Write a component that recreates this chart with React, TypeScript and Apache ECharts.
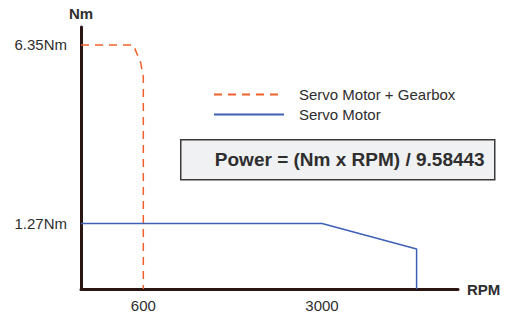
import React, { useEffect, useRef } from "react";
import * as echarts from "echarts";

// Axis extents (schematic chart, not drawn from zero)
const X_MIN = -237;
const X_MAX = 4826;
const Y_MIN = -0.594;
const Y_MAX = 6.862;

// Tick labels
const X_TICKS = [600, 3000];
const Y_TICKS = [1.27, 6.35];

// Series names
const SERIES_GEARBOX = "Servo Motor + Gearbox";
const SERIES_MOTOR = "Servo Motor";

// Data: [RPM, Nm]
const gearboxRpm = [X_MIN, 466, 565, 600, 600];
const gearboxNm = [6.35, 6.35, 5.84, 5.45, Y_MIN];
const motorRpm = [X_MIN, 3000, 4270, 4270];
const motorNm = [1.27, 1.27, 0.544, Y_MIN];

const FORMULA = "Power = (Nm x RPM) / 9.58443";

const FONT = "'Liberation Sans', Arial, sans-serif";
const TEXT = "#2e2e2e";
const AXIS = "#2a1512";
const ORANGE = "#f0602a";
const BLUE = "#3d5fb5";

export default function App() {
  const ref = useRef<HTMLDivElement>(null);
  useEffect(() => {
    if (!ref.current) return;
    const chart = echarts.init(ref.current, null, { renderer: "svg" });
    chart.setOption({
      animation: false,
      backgroundColor: "#ffffff",
      textStyle: { fontFamily: FONT },
      grid: { left: 81, right: 53, top: 27, bottom: 26 },
      legend: {
        orient: "vertical",
        left: 213,
        top: 87,
        padding: 0,
        itemWidth: 70,
        itemHeight: 14,
        itemGap: 5,
        data: [SERIES_GEARBOX, SERIES_MOTOR],
        itemStyle: { opacity: 0 },
        textStyle: {
          fontFamily: FONT,
          fontSize: 15,
          color: TEXT,
          padding: [0, 0, 0, 10],
        },
      },
      xAxis: {
        type: "value",
        min: X_MIN,
        max: X_MAX,
        name: "RPM",
        nameLocation: "end",
        nameGap: 9,
        nameTextStyle: { fontFamily: FONT, fontSize: 15, fontWeight: "bold", color: TEXT, verticalAlign: "middle" },
        axisLine: { onZero: false, lineStyle: { color: AXIS, width: 3 } },
        axisTick: { show: false },
        splitLine: { show: false },
        axisLabel: {
          customValues: X_TICKS,
          formatter: (v: number) => String(v),
          fontFamily: FONT,
          fontSize: 15,
          color: TEXT,
          margin: 9,
        },
      },
      yAxis: {
        type: "value",
        min: Y_MIN,
        max: Y_MAX,
        name: "Nm",
        nameLocation: "end",
        nameGap: 6,
        nameTextStyle: { fontFamily: FONT, fontSize: 15, fontWeight: "bold", color: TEXT, align: "center" },
        axisLine: { onZero: false, lineStyle: { color: AXIS, width: 3 } },
        axisTick: { show: false },
        splitLine: { show: false },
        axisLabel: {
          customValues: Y_TICKS,
          formatter: (v: number) => `${v}Nm`,
          fontFamily: FONT,
          fontSize: 15,
          color: TEXT,
          margin: 14,
        },
      },
      series: [
        {
          name: SERIES_GEARBOX,
          type: "line",
          symbol: "none",
          data: gearboxRpm.map((x, i) => [x, gearboxNm[i]]),
          lineStyle: { color: ORANGE, width: 1.5, type: [8, 6] },
          itemStyle: { color: ORANGE },
        },
        {
          name: SERIES_MOTOR,
          type: "line",
          symbol: "none",
          data: motorRpm.map((x, i) => [x, motorNm[i]]),
          lineStyle: { color: BLUE, width: 1.5 },
          itemStyle: { color: BLUE },
        },
      ],
      graphic: [
        {
          type: "group",
          left: 180,
          top: 139,
          children: [
            {
              type: "rect",
              shape: { x: 0, y: 0, width: 314, height: 40 },
              style: { fill: "#f0f1f3", stroke: "#3a3a3a", lineWidth: 1.5 },
            },
            {
              type: "text",
              x: 169,
              y: 20,
              style: {
                text: FORMULA,
                fontFamily: FONT,
                fontSize: 19,
                fontWeight: "bold",
                fill: TEXT,
                align: "center",
                verticalAlign: "middle",
              },
            },
          ],
        },
      ],
    });
    return () => chart.dispose();
  }, []);
  return (
    <div
      ref={ref}
      style={{ position: "absolute", left: 0, top: 0, width: 511, height: 315 }}
    />
  );
}
